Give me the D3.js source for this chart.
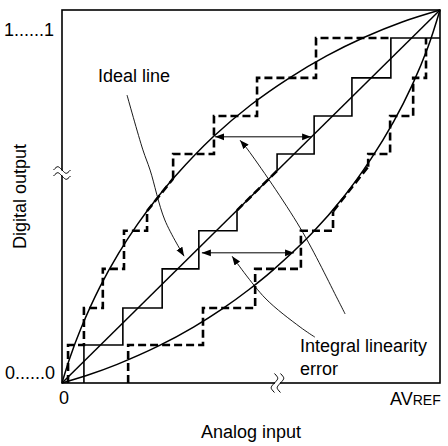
<!DOCTYPE html>
<html><head><meta charset="utf-8">
<script src="https://cdn.jsdelivr.net/npm/d3@7"></script>
<style>html,body{margin:0;padding:0;background:#fff}</style>
</head><body>
<svg id="c" width="448" height="446"></svg>
<script>
// ---- data (x: analog input, % of AVREF; y: digital output, % of full code) ----
const yCodeLabels = ["0......0", "1......1"];
const xEndLabels = ["0", "AV", "REF"];
const axisTitles = ["Analog input", "Digital output"];
const annotations = ["Ideal line", "Integral linearity", "error"];

const levels = [0, 10.2, 20.1, 30.6, 40.8, 51.0, 61.4, 71.6, 81.8, 92.5];
const idealEdges = [5.8, 16.1, 26.5, 36.2, 46.3, 56.9, 66.7, 76.7, 87.0];
const upperEdges = [1.6, 5.8, 10.8, 16.4, 22.5, 29.4, 40.2, 51.6, 67.2];
const lowerEdges = [17.5, 37.3, 51.1, 63.2, 71.7, 81.0, 86.8, 92.9, 96.3];
const idealBreak = [[46.3, 46.3], [56.9, 56.9]];
const upperBreak = [[22.5, 46.1], [29.4, 54.8]];
const lowerBreak = [[71.7, 46.0], [81.0, 58.0]];

const idealLine = [[0, 0], [100, 100]];
const upperX = [0, 2, 5, 10, 15, 20, 25, 30, 40, 50, 60, 70, 80, 90, 100];
const upperY = [0, 6.5, 14.6, 25.7, 34.8, 42.6, 49.4, 55.5, 66.0, 74.6, 81.7, 87.7, 92.7, 96.8, 100];
const lowerX = [0, 6.5, 14.6, 25.7, 34.8, 42.6, 49.4, 55.5, 66.0, 74.6, 81.7, 87.7, 92.7, 96.8, 100];
const lowerY = [0, 2, 5, 10, 15, 20, 25, 30, 40, 50, 60, 70, 80, 90, 100];

const errorArrows = [[[40.5, 66.0], [65.9, 66.0]], [[37.0, 34.9], [61.4, 34.9]]];
const idealLeader = [[17.2, 77.2], [21.4, 62.5], [23.3, 57.1], [27.2, 43.7], [32.3, 34.0]];
const errorLeaders = [
  [[74.9, 18.5], [73.0, 22.3], [63.0, 41.6], [49.2, 62.5], [47.1, 65.1]],
  [[66.9, 12.3], [63.0, 15.0], [53.7, 22.8], [45.0, 34.0]]
];

// ---- drawing ----
const svg = d3.select("#c");
const x = d3.scaleLinear().domain([0, 100]).range([62, 440]);
const y = d3.scaleLinear().domain([0, 100]).range([383, 10]);
const line = d3.line().x(d => x(d[0])).y(d => y(d[1]));
const smooth = d3.line().x(d => x(d[0])).y(d => y(d[1])).curve(d3.curveCatmullRom.alpha(0.5));

const defs = svg.append("defs");
defs.append("marker").attr("id", "ah").attr("viewBox", "0 0 10 10")
  .attr("refX", 10).attr("refY", 5).attr("markerWidth", 9).attr("markerHeight", 9)
  .attr("markerUnits", "userSpaceOnUse").attr("orient", "auto-start-reverse")
  .append("path").attr("d", "M0,1.2 L10,5 L0,8.8 Z").attr("fill", "#000");

// frame
svg.append("rect").attr("x", x(0)).attr("y", y(100))
  .attr("width", x(100) - x(0)).attr("height", y(0) - y(100))
  .attr("fill", "none").attr("stroke", "#000").attr("stroke-width", 1.6);

// curves + ideal line
const upperCurve = upperX.map((v, i) => [v, upperY[i]]);
const lowerCurve = lowerX.map((v, i) => [v, lowerY[i]]);
svg.append("path").attr("d", smooth(upperCurve)).attr("fill", "none").attr("stroke", "#000").attr("stroke-width", 1.5);
svg.append("path").attr("d", smooth(lowerCurve)).attr("fill", "none").attr("stroke", "#000").attr("stroke-width", 1.5);
svg.append("path").attr("d", line(idealLine)).attr("fill", "none").attr("stroke", "#000").attr("stroke-width", 1.5);

function stairs(e, brk, endX) {
  const a = [[e[0], levels[0]]];
  for (let i = 0; i < 4; i++) { a.push([e[i], levels[i + 1]], [e[i + 1], levels[i + 1]]); }
  a.push([e[4], brk[0][1]]);
  const c = [[e[5], brk[1][1]], [e[5], levels[6]]];
  for (let i = 6; i < 9; i++) { c.push([e[i], levels[i]], [e[i], levels[i + 1]]); }
  if (endX !== undefined) c.push([endX, levels[9]]);
  return [a, brk, c];
}
const dashW = 2.6, dashA = "8,4";
function drawStairs(parts, solid) {
  parts.forEach((p, i) => {
    const dashed = !solid || i === 1;
    svg.append("path").attr("d", line(p)).attr("fill", "none").attr("stroke", "#000")
      .attr("stroke-width", dashed ? dashW : 1.6)
      .attr("stroke-dasharray", dashed ? dashA : null)
      .attr("stroke-linejoin", "miter");
  });
}
drawStairs(stairs(upperEdges, upperBreak, idealEdges[8]), false);
drawStairs(stairs(lowerEdges, lowerBreak), false);
drawStairs(stairs(idealEdges, idealBreak, 100), true);

// error arrows
errorArrows.forEach(a => {
  svg.append("path").attr("d", line(a)).attr("fill", "none").attr("stroke", "#000")
    .attr("stroke-width", 1).attr("marker-start", "url(#ah)").attr("marker-end", "url(#ah)");
});
// leaders
svg.append("path").attr("d", smooth(idealLeader)).attr("fill", "none").attr("stroke", "#000")
  .attr("stroke-width", 0.9).attr("marker-end", "url(#ah)");
errorLeaders.forEach(l => {
  svg.append("path").attr("d", smooth(l)).attr("fill", "none").attr("stroke", "#000")
    .attr("stroke-width", 0.9).attr("marker-end", "url(#ah)");
});

// break marks
function tilde(cx, cy, w, a) {
  return `M${cx - w / 2},${cy} C${cx - w / 4},${cy - 2 * a} ${cx - w / 4},${cy - 2 * a} ${cx},${cy} S${cx + w / 4},${cy + 2 * a} ${cx + w / 2},${cy}`;
}
const by = y(56.3), bx = x(57.0);
svg.append("rect").attr("x", x(0) - 2).attr("y", by - 2.5).attr("width", 4).attr("height", 5).attr("fill", "#fff");
[-3, 3].forEach(o => svg.append("path").attr("d", tilde(x(0), by + o, 17, 2.2))
  .attr("fill", "none").attr("stroke", "#000").attr("stroke-width", 1));
function vtilde(cx, cy, h, a) {
  return `M${cx},${cy - h / 2} C${cx + 2 * a},${cy - h / 4} ${cx + 2 * a},${cy - h / 4} ${cx},${cy} S${cx - 2 * a},${cy + h / 4} ${cx},${cy + h / 2}`;
}
svg.append("rect").attr("x", bx - 2.5).attr("y", y(0) - 2).attr("width", 5).attr("height", 4).attr("fill", "#fff");
[-3, 3].forEach(o => svg.append("path").attr("d", vtilde(bx + o, y(0), 19, 2.2))
  .attr("fill", "none").attr("stroke", "#000").attr("stroke-width", 1));

// text
const font = "'Liberation Sans', Arial, Helvetica, sans-serif";
const fs = 18;
const T = (tx, ty, s, anchor) => svg.append("text").attr("x", tx).attr("y", ty).text(s)
  .attr("font-family", font).attr("font-size", fs).attr("fill", "#000").attr("text-anchor", anchor || "start");
T(x(0) - 8, y(levels[9]) - 2, yCodeLabels[1], "end");
T(x(0) - 7, y(0) - 4, yCodeLabels[0], "end");
T(x(0) + 2, y(0) + 21, xEndLabels[0], "middle");
const av = svg.append("text").attr("x", x(100) - 50).attr("y", y(0) + 22)
  .attr("font-family", font).attr("font-size", fs).attr("fill", "#000");
av.append("tspan").text(xEndLabels[1]);
av.append("tspan").attr("font-size", 14).text(xEndLabels[2]);
T((x(0) + x(100)) / 2, 438, axisTitles[0], "middle");
svg.append("text").attr("transform", `translate(26,${(y(0) + y(100)) / 2}) rotate(-90)`)
  .attr("font-family", font).attr("font-size", fs).attr("text-anchor", "middle").text(axisTitles[1]);
T(98, 82, annotations[0]);
T(300, 352, annotations[1]);
T(300, 375, annotations[2]);
</script>
</body></html>
